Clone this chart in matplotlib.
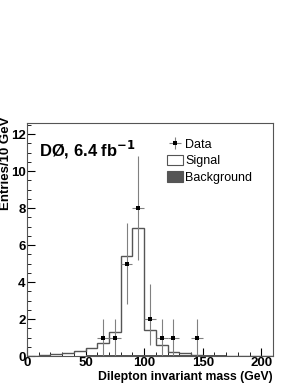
import numpy as np
import matplotlib.pyplot as plt
from matplotlib.ticker import MultipleLocator
from matplotlib.patches import Patch

plt.rcParams['font.family'] = ['Liberation Sans', 'DejaVu Sans']

# 10 GeV bins from 0 to 210 GeV
bin_edges = np.arange(0, 220, 10)
signal = [0.02, 0.05, 0.1, 0.15, 0.25, 0.45, 0.7, 1.3, 5.4, 6.9, 1.4,
          0.6, 0.2, 0.15, 0.05, 0.02, 0.0, 0.0, 0.0, 0.0, 0.0]
background = [0.0, 0.0, 0.0, 0.01, 0.02, 0.03, 0.04, 0.05, 0.05, 0.05, 0.05,
              0.05, 0.05, 0.06, 0.06, 0.04, 0.03, 0.02, 0.02, 0.01, 0.01]

# data points
data_x = [65, 75, 85, 95, 105, 115, 125, 145]
data_y = [1, 1, 5, 8, 2, 1, 1, 1]
data_up = [2.0, 2.0, 7.2, 10.8, 3.9, 2.0, 2.0, 2.0]
data_lo = [0.0, 0.0, 2.8, 5.2, 0.6, 0.0, 0.0, 0.0]

fig = plt.figure(figsize=(2.98, 3.85), dpi=100)
ax = fig.add_axes([0.0906, 0.0753, 0.8255, 0.6052])

ax.stairs(background, bin_edges, fill=True, color='#555555', zorder=2)
ax.stairs(signal, bin_edges, color='#555555', lw=1.0, zorder=3)

yerr = [np.array(data_y) - np.array(data_lo), np.array(data_up) - np.array(data_y)]
eb = ax.errorbar(data_x, data_y, xerr=5, yerr=yerr, fmt='s', ms=2.4, mew=0,
                 color='black', ecolor='#808080', elinewidth=0.8, capsize=0,
                 zorder=4)

ax.set_xlim(0, 210)
ax.set_ylim(0, 12.6)
ax.xaxis.set_major_locator(MultipleLocator(50))
ax.xaxis.set_minor_locator(MultipleLocator(10))
ax.yaxis.set_major_locator(MultipleLocator(2))
ax.yaxis.set_minor_locator(MultipleLocator(0.5))
ax.tick_params(which='both', direction='in', labelsize=9.5, pad=1)
ax.tick_params(which='major', length=6)
ax.tick_params(which='minor', length=3)
for lab in ax.get_xticklabels() + ax.get_yticklabels():
    lab.set_fontweight('bold')
for s in ax.spines.values():
    s.set_color('#555555')

ax.set_xlabel('Dilepton invariant mass (GeV)', fontsize=8.8, fontweight='bold')
ax.xaxis.set_label_coords(1.0, -0.065)
ax.xaxis.label.set_ha('right')
ax.set_ylabel('Entries/10 GeV', fontsize=9.5, fontweight='bold')
ax.yaxis.set_label_coords(-0.061, 1.026)
ax.yaxis.label.set_ha('right')

ax.text(0.05, 0.93, 'DØ, 6.4 fb$^{\\mathbf{-1}}$', transform=ax.transAxes,
        fontsize=12, fontweight='bold', va='top')

handles = [
    eb,
    Patch(facecolor='white', edgecolor='#555555', lw=0.8),
    Patch(facecolor='#555555', edgecolor='#555555', lw=0.8),
]
ax.legend(handles, ['Data', 'Signal', 'Background'], loc='upper left',
          bbox_to_anchor=(0.57, 0.935), frameon=False, fontsize=9,
          handlelength=1.25, handleheight=0.95, handletextpad=0.2,
          labelspacing=0.3, borderaxespad=0, borderpad=0)

fig.savefig('out.png', dpi=100)
